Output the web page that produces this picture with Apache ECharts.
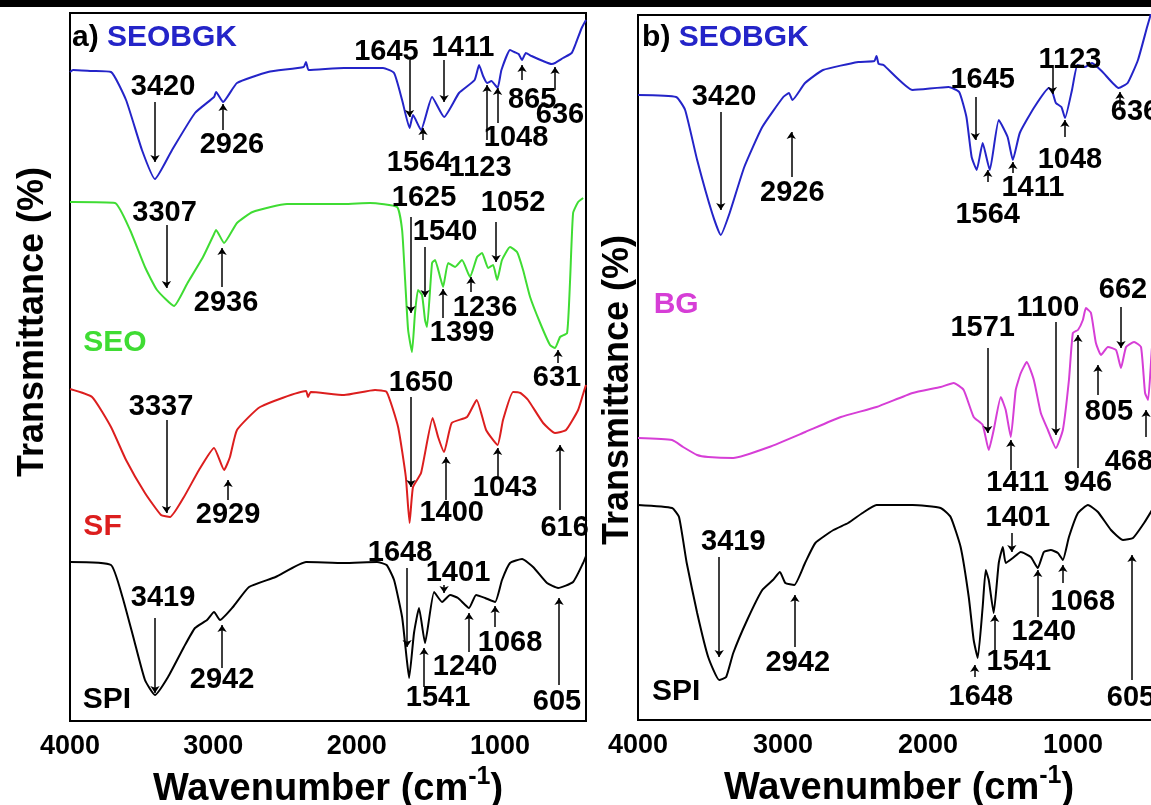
<!DOCTYPE html>
<html><head><meta charset="utf-8">
<script src="https://cdn.jsdelivr.net/npm/echarts@6/dist/echarts.min.js"></script>
<style>html,body{margin:0;padding:0;background:#fff}#c{width:1151px;height:805px}</style>
</head><body><div id="c"></div>
<script>
// ---------- data (wavenumber cm-1, transmittance in arbitrary offset units) ----------
const xTicks = [4000, 3000, 2000, 1000];

// Panel a)
const seobgkA = [[4000,646],[3979,648],[3850,647],[3714,646],[3609,618],[3498,568],[3407,539],[3288,568],[3128,605],[2995,621],[2981,626],[2932,616],[2835,635],[2618,646],[2370,651],[2353,656],[2335,648],[2088,650],[1816,650],[1739,645],[1683,618],[1631,590],[1607,603],[1551,588],[1474,621],[1390,601],[1286,625],[1177,638],[1146,653],[1118,642],[1090,635],[1060,637],[1017,630],[990,648],[930,668],[900,666],[870,664],[846,658],[820,665],[780,662],[700,657],[640,654],[616,655],[560,660],[500,665],[470,675],[430,690],[400,698]];
const seoA = [[4000,516],[3979,516],[3686,515],[3581,488],[3477,451],[3393,428],[3274,412],[3180,435],[3072,461],[2995,484],[2981,488],[2925,475],[2835,495],[2726,506],[2486,514],[2088,514],[1907,515],[1718,511],[1683,488],[1662,438],[1641,388],[1614,366],[1593,405],[1572,428],[1544,423],[1523,398],[1509,391],[1474,455],[1453,458],[1418,441],[1397,431],[1362,455],[1313,451],[1265,458],[1209,441],[1160,461],[1125,465],[1083,450],[1048,453],[1020,438],[986,458],[930,471],[881,466],[839,448],[790,421],[720,395],[651,373],[616,370],[581,381],[532,385],[511,438],[490,505],[455,516],[420,520]];
const sfA = [[4000,329],[3846,321],[3714,291],[3609,258],[3477,225],[3365,203],[3302,201],[3205,221],[3100,248],[2995,270],[2925,248],[2884,261],[2835,288],[2674,311],[2353,327],[2340,321],[2320,326],[2088,323],[1872,328],[1791,326],[1711,291],[1657,241],[1631,195],[1607,231],[1551,245],[1470,300],[1432,281],[1390,266],[1337,295],[1230,301],[1163,318],[1097,288],[1017,273],[979,298],[909,326],[857,325],[804,318],[699,295],[616,285],[539,288],[455,308],[416,326],[400,333]];
const spiA = [[4000,156],[3714,153],[3634,121],[3553,78],[3477,38],[3407,23],[3316,41],[3205,71],[3128,90],[3044,98],[2995,106],[2953,98],[2863,111],[2751,131],[2566,141],[2353,156],[2088,155],[1858,156],[1791,153],[1739,138],[1683,101],[1650,58],[1634,40],[1600,85],[1565,110],[1523,75],[1460,126],[1404,116],[1348,123],[1293,120],[1216,110],[1167,123],[1104,120],[1034,116],[986,138],[930,155],[846,159],[769,151],[672,135],[595,130],[490,136],[420,155],[400,162]];

// Panel b)
const seobgkB = [[4000,627],[3737,625],[3675,612],[3592,562],[3489,509],[3429,487],[3368,509],[3267,555],[3143,595],[2998,625],[2959,629],[2935,622],[2848,639],[2724,652],[2480,660],[2370,661],[2355,666],[2340,658],[2307,657],[2106,632],[1858,635],[1785,630],[1735,605],[1699,565],[1664,552],[1623,579],[1574,552],[1512,602],[1451,585],[1415,562],[1367,589],[1266,615],[1166,634],[1142,630],[1118,619],[1080,615],[1055,604],[1007,632],[969,657],[918,655],[869,659],[796,650],[685,634],[623,639],[552,662],[489,695],[455,712]];
const bgB = [[4000,284],[3765,282],[3689,275],[3592,267],[3516,265],[3343,264],[3095,275],[2846,290],[2601,305],[2355,315],[2106,329],[1913,335],[1823,339],[1754,332],[1685,305],[1623,297],[1581,272],[1547,292],[1498,325],[1464,312],[1429,285],[1395,332],[1360,349],[1319,360],[1270,342],[1222,309],[1173,292],[1118,274],[1070,292],[1028,342],[1001,389],[966,392],[932,402],[911,414],[876,409],[842,379],[807,367],[759,375],[703,372],[669,354],[634,375],[579,380],[531,375],[503,329],[482,322],[455,375],[430,400]];
const spiB = [[4000,217],[3765,214],[3717,205],[3664,159],[3592,109],[3516,65],[3440,42],[3392,45],[3343,69],[3247,102],[3143,132],[3070,142],[3021,150],[2984,139],[2922,137],[2848,159],[2777,179],[2652,192],[2551,199],[2452,209],[2355,217],[2106,217],[1913,214],[1844,205],[1775,175],[1719,125],[1685,82],[1657,64],[1623,115],[1602,152],[1581,142],[1547,109],[1512,159],[1484,175],[1464,159],[1415,164],[1360,170],[1291,165],[1243,154],[1201,170],[1153,172],[1104,169],[1070,162],[1028,185],[966,209],[897,217],[828,210],[738,192],[655,182],[586,184],[510,199],[455,212]];

// Peak annotations: [label, arrow wavenumber, arrow tail, arrow head, label wavenumber, label level]
const peaksA = [
  ["3420",3407,616,556,3351,631],["2926",2932,588,614,2870,573],["1645",1631,658,601,1792,666],
  ["1411",1390,658,616,1258,670],["1564",1537,578,590,1565,555],["1123",1090,578,633,1139,550],
  ["1048",1017,595,630,888,580],["865",846,638,653,776,618],["636",616,628,651,581,603],
  ["3307",3327,493,430,3340,505],["2936",2939,431,470,2911,415],["1625",1621,501,405,1530,520],
  ["1540",1523,471,421,1383,486],["1052",1027,496,456,909,515],["1236",1202,426,441,1104,410],
  ["1399",1397,400,429,1265,385],["631",595,355,368,602,340],
  ["3337",3327,298,205,3365,311],["2929",2897,218,238,2897,203],["1650",1621,321,231,1551,335],
  ["1400",1376,218,261,1337,205],["1043",1017,241,270,965,230],["616",581,208,273,549,190],
  ["3419",3407,100,25,3351,120],["2942",2939,50,93,2939,38],["1648",1648,150,71,1697,165],
  ["1401",1390,133,125,1293,145],["1240",1216,66,105,1244,51],["1068",1034,91,112,930,75],
  ["1541",1530,31,70,1432,20],["605",588,33,120,602,16]
];
const peaksB = [
  ["3420",3429,610,512,3406,625],["2926",2943,545,590,2936,529],["1645",1674,625,582,1623,642],
  ["1564",1588,540,552,1588,507],["1411",1415,549,560,1277,534],["1123",1142,654,628,1021,662],
  ["1048",1056,585,602,1021,562],["636",676,612,630,572,610],
  ["1571",1588,374,289,1623,394],["1100",1118,400,287,1173,414],["662",669,415,374,655,432],
  ["805",828,327,357,752,310],["468",496,285,312,614,260],["1411",1429,252,282,1381,239],
  ["946",966,254,387,897,239],
  ["3419",3440,165,65,3343,180],["2942",2918,75,127,2898,59],["1648",1678,45,57,1636,25],
  ["1541",1540,70,107,1374,60],["1401",1422,189,170,1381,204],["1240",1243,105,152,1201,90],
  ["1068",1070,139,157,932,120],["605",593,42,167,600,24]
];

// Sample name tags: [name, wavenumber, level]
const namesA = [["SEO",3686,375],["SF",3773,191],["SPI",3742,18]];
const namesB = [["BG",3737,417],["SPI",3737,30]];
const headerA = ["a)", "SEOBGK", 3986, 680];
const headerB = ["b)", "SEOBGK", 3972, 684];

// ---------- styling ----------
const FONT = '"Liberation Sans", Arial, sans-serif';
const COLORS = { SEOBGK:'#2424c8', SEO:'#3fdc33', SF:'#dc1e1e', BG:'#d63ed6', SPI:'#000000' };

function curve(name, data, gi) {
  return { type:'line', name, data, xAxisIndex:gi, yAxisIndex:gi, symbol:'none', silent:true, smooth:0.15,
           lineStyle:{ color:COLORS[name], width:2 }, clip:true, z:3 };
}
function annot(peaks, gi) {
  return {
    type:'scatter', xAxisIndex:gi, yAxisIndex:gi, symbolSize:0, silent:true, z:5,
    itemStyle:{ opacity:1 },
    data: peaks.map(p => ({ value:[p[4], p[5]], name:p[0] })),
    label:{ show:true, position:'inside', formatter:p => p.name, color:'#000', opacity:1,
            fontSize:29, fontWeight:'bold', fontFamily:FONT },
    markLine:{ silent:true, symbol:['none','arrow'], symbolSize:7, precision:0,
      lineStyle:{ color:'#000', width:1.5, type:'solid', opacity:1 }, label:{ show:false },
      emphasis:{ disabled:true },
      data: peaks.map(p => [{ coord:[p[1], p[2]] }, { coord:[p[1], p[3]] }]) }
  };
}
function names(list, header, gi) {
  const data = list.map(n => ({ value:[n[1], n[2]], name:n[0],
    label:{ color:COLORS[n[0]], align:'center' } }));
  data.push({ value:[header[2], header[3]], name:'hdr',
    label:{ align:'left', formatter:'{k|' + header[0] + ' }{b|' + header[1] + '}' } });
  return {
    type:'scatter', xAxisIndex:gi, yAxisIndex:gi, symbolSize:0, silent:true, z:5, data,
    itemStyle:{ opacity:1 },
    label:{ show:true, position:'inside', formatter:p => p.name, fontSize:30, fontWeight:'bold', fontFamily:FONT, opacity:1,
      rich:{ k:{ fontSize:30, fontWeight:'bold', fontFamily:FONT, color:'#000' },
             b:{ fontSize:30, fontWeight:'bold', fontFamily:FONT, color:COLORS.SEOBGK } } }
  };
}
function xAxis(gi) {
  return { type:'value', gridIndex:gi, min:400, max:4000, inverse:true,
    axisLine:{ show:false }, axisTick:{ show:false }, splitLine:{ show:false },
    axisLabel:{ customValues:xTicks, formatter:v => String(v), color:'#000', fontSize:27, fontWeight:'bold', fontFamily:FONT, margin:12 },
    name:'{a|Wavenumber (cm}{s|-1}{a|)}', nameLocation:'middle', nameGap:38,
    nameTextStyle:{ rich:{
      a:{ fontSize:38, fontWeight:'bold', fontFamily:FONT, color:'#000', lineHeight:50 },
      s:{ fontSize:25, fontWeight:'bold', fontFamily:FONT, color:'#000', lineHeight:24, verticalAlign:'top' } } } };
}
function yAxis(gi, min, max) {
  return { type:'value', gridIndex:gi, min, max, axisLine:{ show:false }, axisTick:{ show:false },
    axisLabel:{ show:false }, splitLine:{ show:false } };
}

const chart = echarts.init(document.getElementById('c'), null, { renderer:'canvas' });
chart.setOption({
  animation:false,
  backgroundColor:'#ffffff',
  grid:[
    { left:70, top:13, width:516, height:708, show:true, borderColor:'#000', borderWidth:2, backgroundColor:'transparent', outerBoundsMode:'none', containLabel:false },
    { left:638, top:15, width:522, height:705, show:true, borderColor:'#000', borderWidth:2, backgroundColor:'transparent', outerBoundsMode:'none', containLabel:false }
  ],
  xAxis:[ xAxis(0), xAxis(1) ],
  yAxis:[ yAxis(0, -3, 705), yAxis(1, 2, 707) ],
  graphic:[
    { type:'rect', left:0, top:0, shape:{ width:1151, height:7 }, style:{ fill:'#000' }, z:10 },
    { type:'text', x:33, y:322, rotation:Math.PI/2, z:10,
      style:{ text:'Transmittance (%)', font:'bold 36px "Liberation Sans", Arial, sans-serif', fill:'#000', align:'center', verticalAlign:'middle' } },
    { type:'text', x:618, y:390, rotation:Math.PI/2, z:10,
      style:{ text:'Transmittance (%)', font:'bold 36px "Liberation Sans", Arial, sans-serif', fill:'#000', align:'center', verticalAlign:'middle' } }
  ],
  series:[
    curve('SEOBGK', seobgkA, 0), curve('SEO', seoA, 0), curve('SF', sfA, 0), curve('SPI', spiA, 0),
    curve('SEOBGK', seobgkB, 1), curve('BG', bgB, 1), curve('SPI', spiB, 1),
    annot(peaksA, 0), annot(peaksB, 1),
    names(namesA, headerA, 0), names(namesB, headerB, 1)
  ]
});
</script></body></html>
